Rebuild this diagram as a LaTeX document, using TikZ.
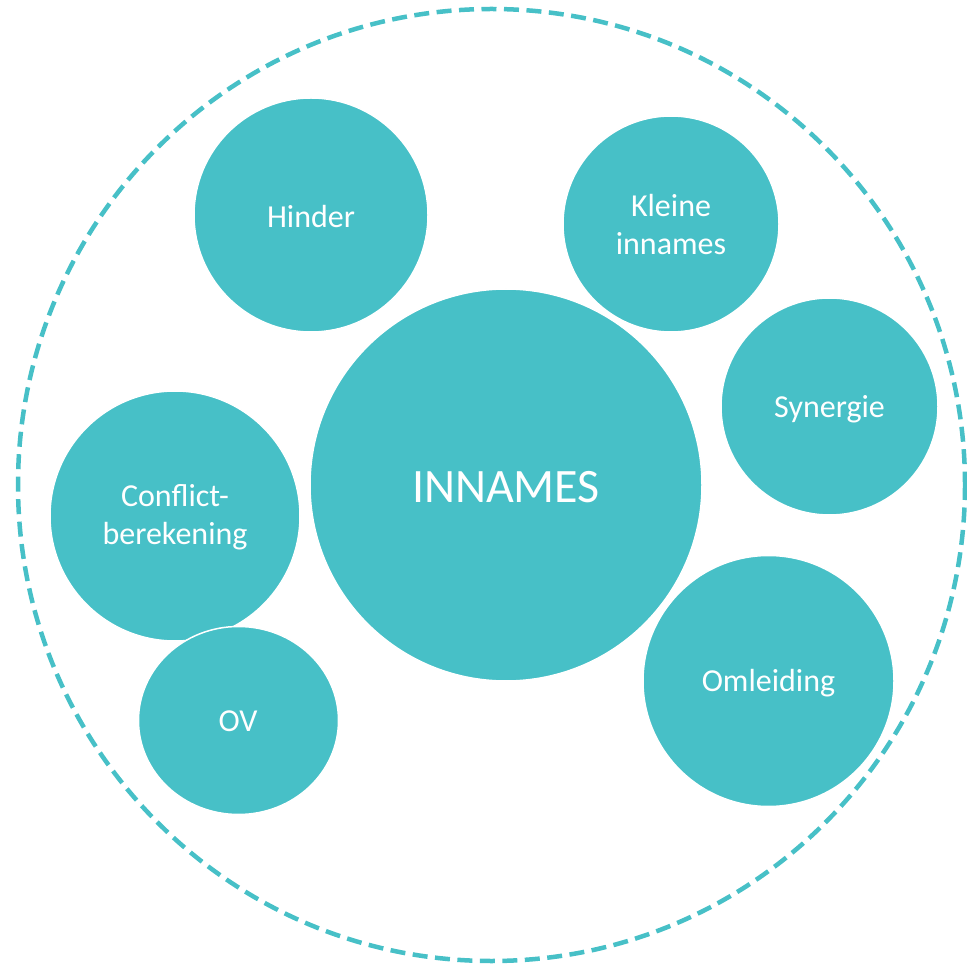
\documentclass[tikz,border=0pt]{standalone}
\usepackage{fontspec}
\setmainfont{Carlito}
\definecolor{teal1}{RGB}{71,192,199}
\begin{document}
\begin{tikzpicture}[x=1pt,y=-1pt,
  bubble/.style={fill=teal1,draw=white,line width=1.5pt},
  lbl/.style={text=white,align=center,font=\fontsize{32}{38}\selectfont},
  outer/.style={draw=teal1,line width=4.5pt,dash pattern=on 15pt off 7.5pt}]
\useasboundingbox (0,0) rectangle (967,965);
\draw[outer] (491.5,485) ellipse [x radius=473.5, y radius=476];
\fill[bubble] (311,215) circle (117);
\fill[bubble] (671,224) circle (108);
\fill[bubble] (829.5,406.5) circle (108.5);
\fill[bubble] (175,516) circle (125);
\filldraw[bubble] (238.5,720.5) ellipse [x radius=100, y radius=94];
\filldraw[bubble] (768.5,681) circle (125.5);
\filldraw[bubble] (506,485) circle (196);
\filldraw[bubble] (311,215) circle (117);
\filldraw[bubble] (671,224) circle (108);
\filldraw[bubble] (829.5,406.5) circle (108.5);
\node[lbl] (hinder) at (311,217) {Hinder};
\node[lbl] (kleine) at (671,225) {Kleine\\innames};
\node[lbl] (syn) at (829.5,409) {Synergie};
\node[lbl] (conf) at (175,517) {Conflict-\\berekening};
\node[lbl] (ov) at (238,721) {OV};
\node[lbl] (oml) at (768.5,683) {Omleiding};
\node[lbl,font=\fontsize{48}{56}\selectfont] (inn) at (506,487) {INNAMES};
\end{tikzpicture}
\end{document}
